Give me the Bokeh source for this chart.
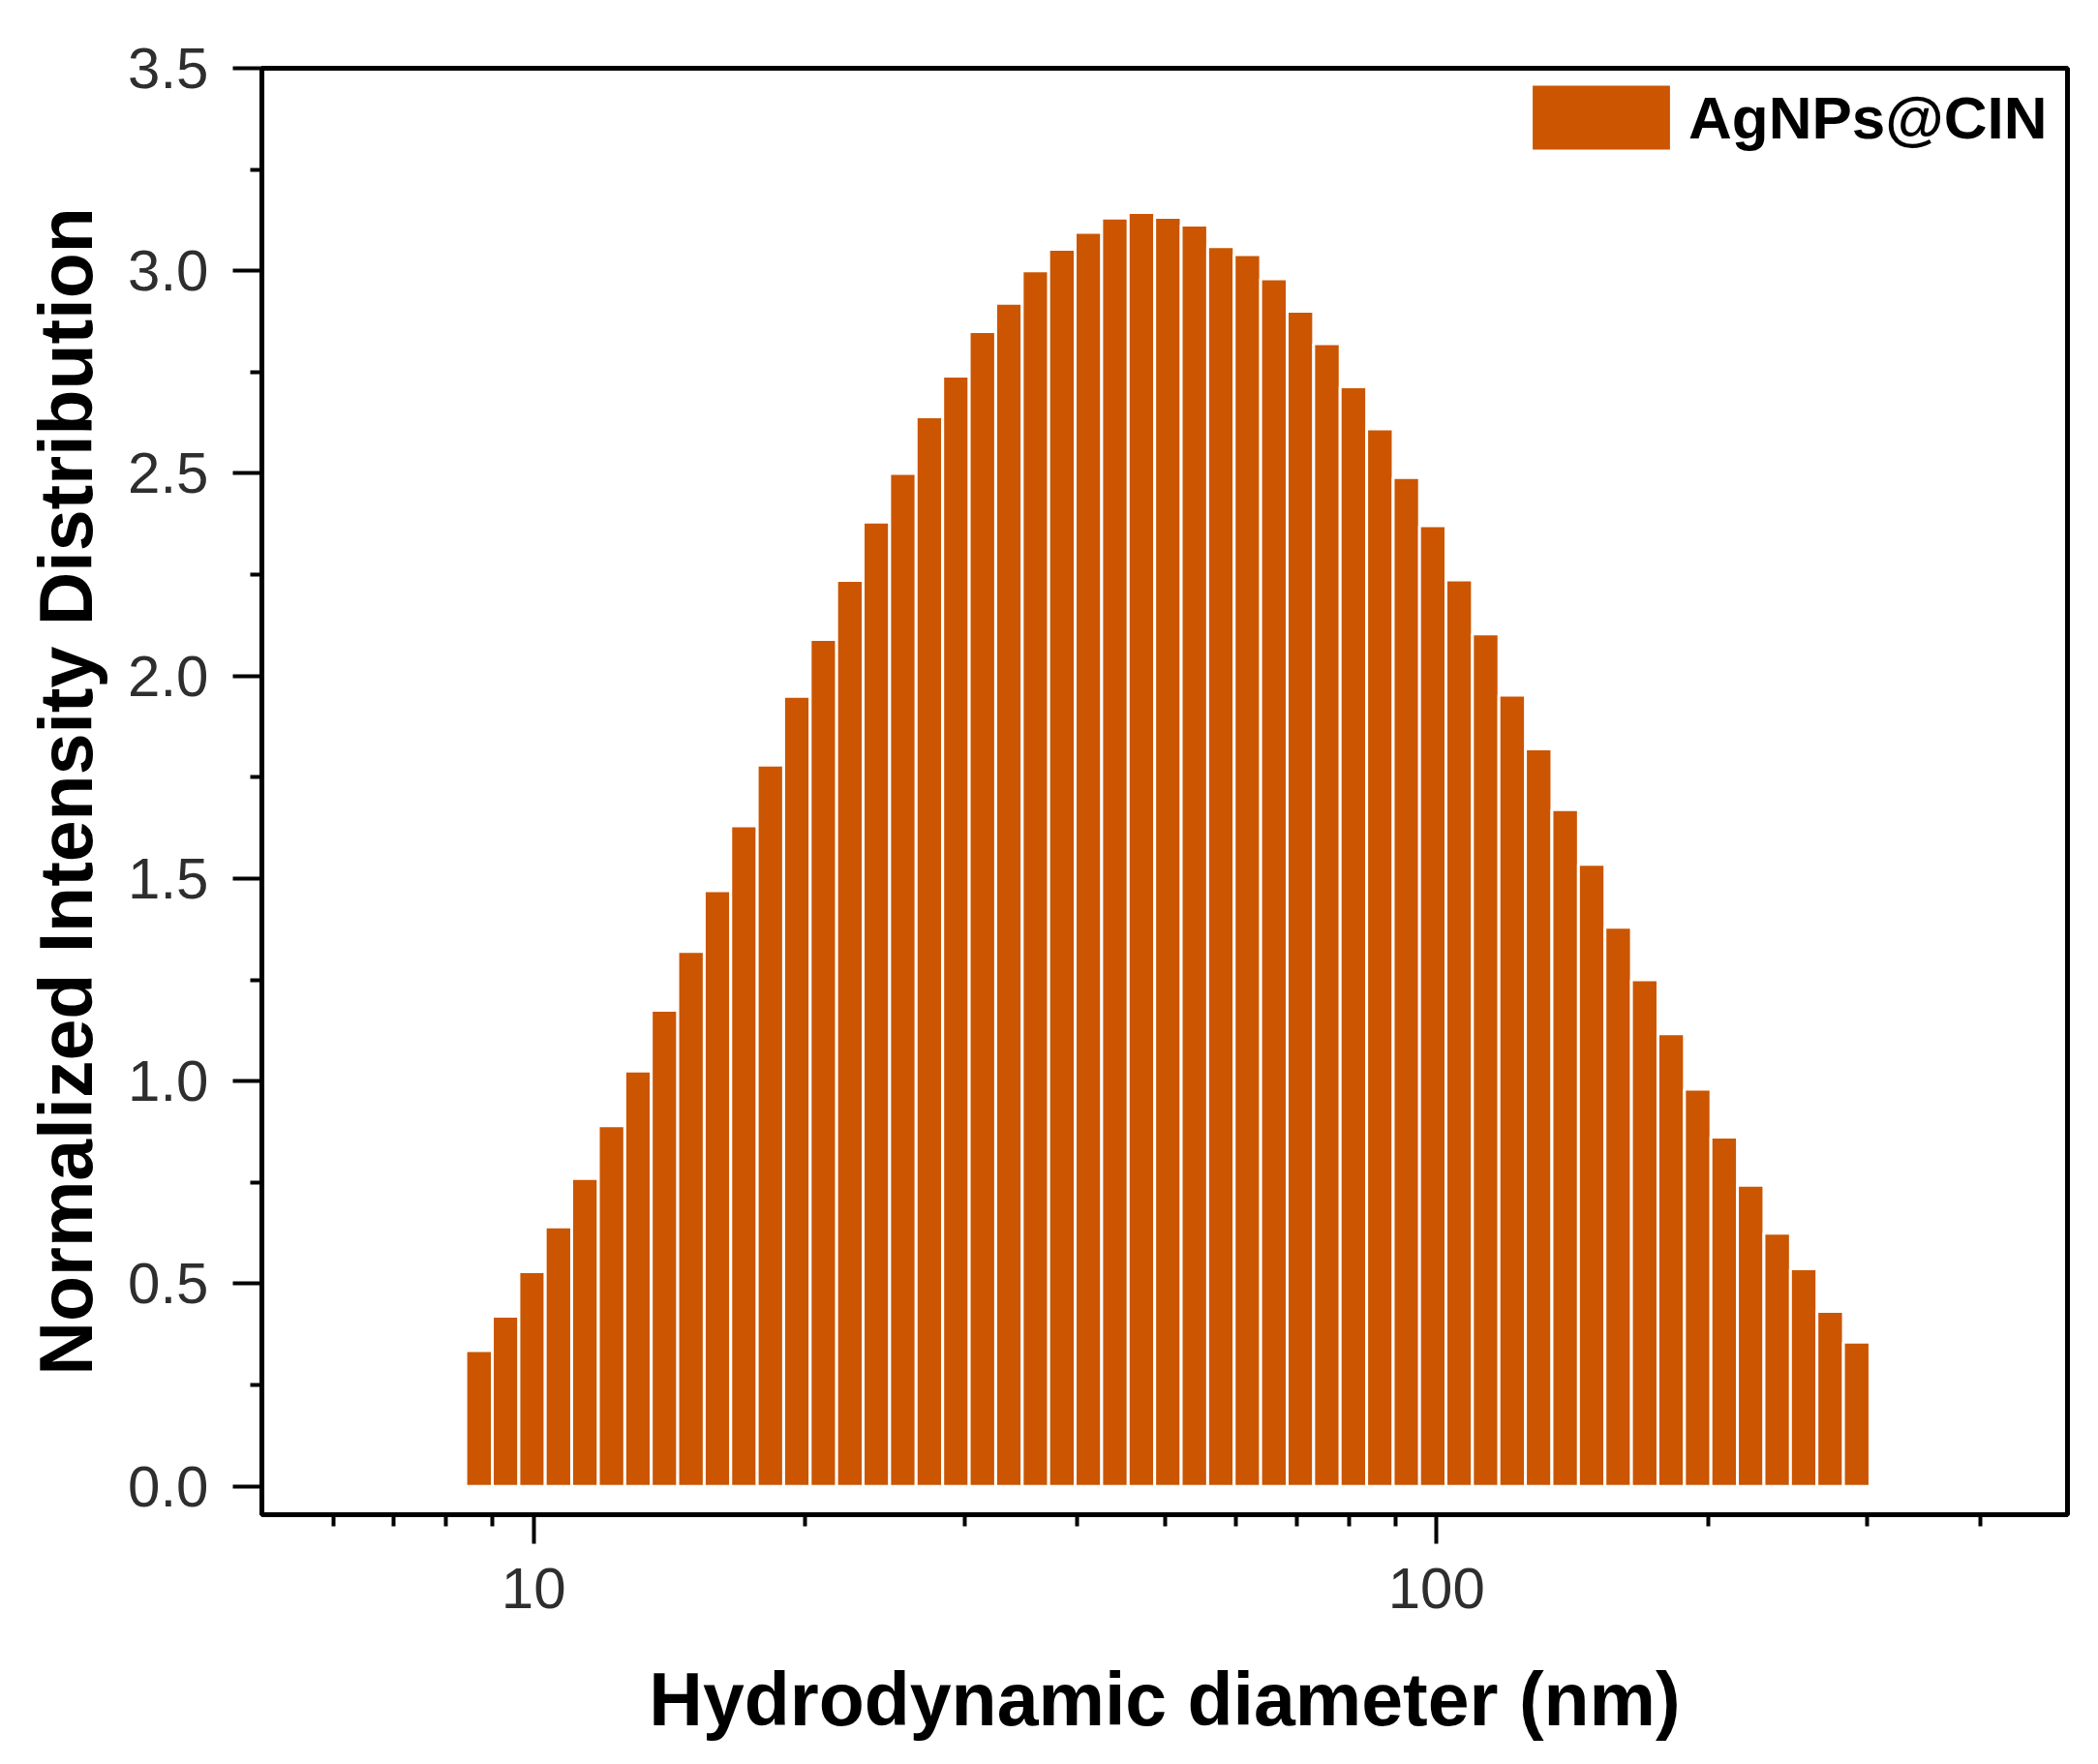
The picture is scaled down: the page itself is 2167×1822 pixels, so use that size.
import numpy as np
from bokeh.plotting import figure
from bokeh.models import FixedTicker, PrintfTickFormatter
from bokeh.embed import file_html
from bokeh.resources import INLINE

# ---- data ----
diameter_nm = [8.70, 9.31, 9.96, 10.65, 11.40, 12.20, 13.05, 13.96, 14.94, 15.98,
               17.10, 18.29, 19.57, 20.94, 22.40, 23.97, 25.64, 27.44, 29.36, 31.41,
               33.61, 35.96, 38.47, 41.16, 44.04, 47.12, 50.41, 53.94, 57.71, 61.74,
               66.06, 70.68, 75.62, 80.91, 86.57, 92.62, 99.04, 105.97, 113.37, 121.30,
               129.78, 138.86, 148.57, 158.96, 170.07, 181.97, 194.69, 208.30, 222.87,
               238.45, 255.12, 272.97, 292.05]
intensity = [0.335, 0.42, 0.53, 0.64, 0.76, 0.89, 1.025, 1.175, 1.32, 1.47,
             1.63, 1.78, 1.95, 2.09, 2.236, 2.38, 2.50, 2.64, 2.74, 2.85,
             2.92, 3.00, 3.053, 3.095, 3.13, 3.144, 3.132, 3.113, 3.06, 3.04,
             2.98, 2.90, 2.82, 2.714, 2.61, 2.49, 2.371, 2.237, 2.104, 1.953,
             1.82, 1.67, 1.535, 1.38, 1.25, 1.117, 0.98, 0.862, 0.743, 0.625,
             0.537, 0.432, 0.356]
y_ticks = [0.0, 0.5, 1.0, 1.5, 2.0, 2.5, 3.0, 3.5]
y_minor_ticks = [0.25, 0.75, 1.25, 1.75, 2.25, 2.75, 3.25]
x_ticks = [10, 100]
x_minor_ticks = [6, 7, 8, 9, 20, 30, 40, 50, 60, 70, 80, 90, 200, 300, 400]
series_name = "AgNPs@CIN"
x_title = "Hydrodynamic diameter (nm)"
y_title = "Normalized Intensity Distribution"

# bin edges: geometric midpoints between neighbouring bin centres
d = np.array(diameter_nm)
mids = np.sqrt(d[:-1] * d[1:])
left = np.concatenate([[d[0] ** 2 / mids[0]], mids])
right = np.concatenate([mids, [d[-1] ** 2 / mids[-1]]])

BAR = "#CB5500"
FONT = "Liberation Sans"

p = figure(width=2160, height=1800, x_axis_type="log",
           x_range=(5, 500), y_range=(-0.07, 3.5),
           output_backend="svg", toolbar_location=None,
           min_border_left=270, min_border_right=25,
           min_border_top=70, min_border_bottom=235,
           background_fill_color="white", border_fill_color="white")

p.quad(left=left, right=right, bottom=0, top=intensity,
       fill_color=BAR, line_color="white", line_width=3,
       legend_label=series_name)

p.xgrid.visible = False
p.ygrid.visible = False
p.outline_line_color = "black"
p.outline_line_width = 5

# axes
for ax in (p.xaxis[0], p.yaxis[0]):
    ax.axis_line_width = 5
    ax.axis_line_color = "black"
    ax.major_tick_line_width = 4
    ax.minor_tick_line_width = 4
    ax.major_tick_line_color = "black"
    ax.minor_tick_line_color = "black"
    ax.major_tick_in = 0
    ax.minor_tick_in = 0
    ax.major_tick_out = 30
    ax.minor_tick_out = 12
    ax.major_label_text_font = FONT
    ax.major_label_text_font_size = "60px"
    ax.major_label_text_color = "#2e2e2e"
    ax.axis_label_text_font = FONT
    ax.axis_label_text_font_style = "bold"
    ax.axis_label_text_color = "black"
    ax.axis_label_text_font_size = "77px"

p.xaxis[0].ticker = FixedTicker(ticks=x_ticks, minor_ticks=x_minor_ticks)
p.xaxis[0].formatter = PrintfTickFormatter(format="%d")
p.xaxis[0].major_label_standoff = 25
p.xaxis[0].axis_label = x_title
p.xaxis[0].axis_label_standoff = 48

p.yaxis[0].ticker = FixedTicker(ticks=y_ticks, minor_ticks=y_minor_ticks)
p.yaxis[0].formatter = PrintfTickFormatter(format="%.1f")
p.yaxis[0].major_label_standoff = 25
p.yaxis[0].axis_label = y_title
p.yaxis[0].axis_label_standoff = 18

# legend
lg = p.legend[0]
lg.location = "top_right"
lg.margin = 0
lg.padding = 8
lg.border_line_alpha = 0
lg.background_fill_alpha = 0
lg.glyph_width = 181
lg.glyph_height = 86
lg.label_height = 86
lg.label_width = 383
lg.label_standoff = 0
lg.label_text_font = FONT
lg.label_text_font_style = "bold"
lg.label_text_font_size = "62px"
lg.label_text_color = "black"

open("out.html", "w").write(file_html(p, INLINE))
